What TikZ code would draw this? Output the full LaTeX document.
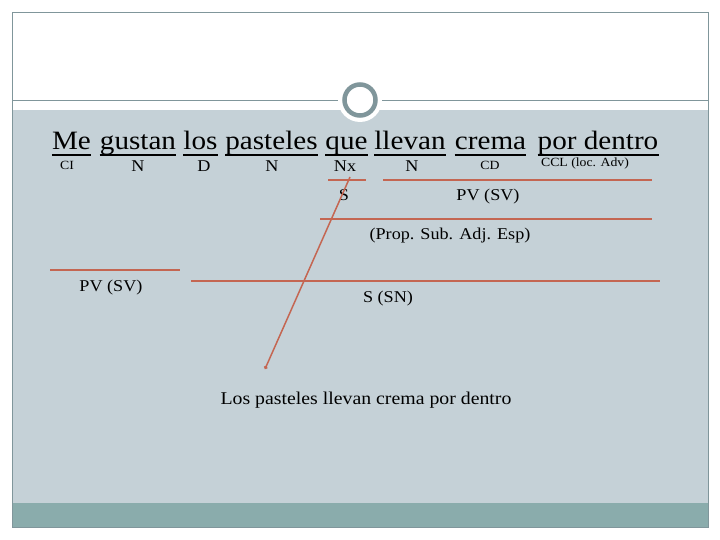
\documentclass[tikz,border=0pt]{standalone}
\usepackage{fontspec}
\setmainfont[FakeStretch=1.1]{Liberation Serif}
\usepackage{tikz}
\usetikzlibrary{arrows.meta,positioning}
\definecolor{slidebg}{RGB}{197,209,215}
\definecolor{bandcol}{RGB}{138,172,172}
\definecolor{framecol}{RGB}{128,150,155}
\definecolor{linecol}{RGB}{196,102,82}

\begin{document}
\begin{tikzpicture}[x=1pt, y=-1pt, word/.style={inner sep=0pt, anchor=base, font=\fontsize{26.5}{29}\selectfont},
  lbl/.style={inner sep=0pt, anchor=base, font=\fontsize{16.5}{19}\selectfont},
  smalllbl/.style={inner sep=0pt, anchor=base, font=\fontsize{12.5}{15}\selectfont},
  bar/.style={linecol, line width=1.3pt}]
\useasboundingbox (0,0) rectangle (720,540);
% slide
\fill[white] (0,0) rectangle (720,540);
\fill[slidebg] (12,110) rectangle (708,503);
\fill[bandcol] (12,503) rectangle (708,527);
\draw[framecol, line width=0.6pt] (12,12) rectangle (708,527);
\draw[framecol, line width=0.8pt] (12,100) -- (708,100);
\fill[white] (360,100) circle (22);
\draw[framecol, line width=4.5pt] (360,100) circle (15.5);
% sentence
\draw
  node at (71.5,150)[word](me){Me}
  node at (138,150)[word](gustan){gustan}
  node at (200.5,150)[word](los){los}
  node at (271.5,150)[word](pasteles){pasteles}
  node at (346.5,150)[word](que){que}
  node at (410,150)[word](llevan){llevan}
  node at (490.5,150)[word](crema){crema}
  node at (598,150)[word](dentro){por dentro};
\foreach \w in {me,gustan,los,pasteles,que,llevan,crema,dentro}
  \draw[line width=1.3pt] ([yshift=-5pt]\w.base west) -- ([yshift=-5pt]\w.base east);
% functions
\draw
  node at (67,170)[smalllbl](ci){CI}
  node at (138,172)[lbl](n1){N}
  node at (204,172)[lbl](d){D}
  node at (272,172)[lbl](n2){N}
  node at (345,172)[lbl](nx){Nx}
  node at (412,172)[lbl](n3){N}
  node at (490,170)[smalllbl](cd){CD}
  node at (585,167)[smalllbl](ccl){CCL (loc. Adv)}
  node at (344,201)[lbl](s){S}
  node at (488,201)[lbl](pv){PV (SV)}
  node at (450,240)[lbl](prop){(Prop. Sub. Adj. Esp)}
  node at (111,291)[lbl](pv2){PV (SV)}
  node at (388,302)[lbl](sn){S (SN)}
  node at (366,404)[lbl, font=\fontsize{18}{20}\selectfont](res){Los pasteles llevan crema por dentro};
\coordinate (top) at (350,177);
\coordinate (tip) at (265,369);
\draw[bar] (328,180) -- (366,180);
\draw[bar] (383,180) -- (652,180);
\draw[bar] (320,219) -- (652,219);
\draw[bar] (50,270) -- (180,270);
\draw[bar] (191,281) -- (660,281);
\draw[linecol, line width=1.5pt, -{Circle[length=3.5pt]}] (top) -- (tip);
\end{tikzpicture}
\end{document}
